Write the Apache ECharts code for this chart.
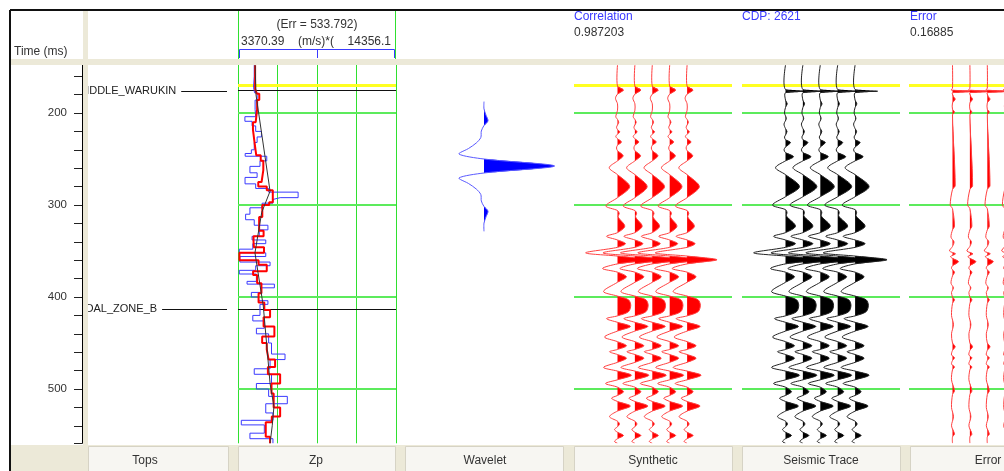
<!DOCTYPE html>
<html>
<head>
<meta charset="utf-8">
<script src="https://cdn.jsdelivr.net/npm/echarts@6/dist/echarts.min.js"></script>
<style>
  html, body { margin: 0; padding: 0; background: #fff; }
  #chart { width: 1004px; height: 471px; }
</style>
</head>
<body>
<div id="chart"></div>
<script>
// ---- time axis (ms) ----
const timeMin = 100, timeMax = 559;
const timeLabels = [200, 300, 400, 500];
const windowStart = 169.6;           // start of the correlation window

// ---- well tops ----
const topNames = ['MIDDLE_WARUKIN', 'COAL_ZONE_B'];
const topTimes = [176, 413.5];

// ---- Zp panel, (m/s)*(g/cc) ----
const zpMin = 3370.39, zpMax = 14356.1, zpErr = 533.792;
// blocky impedance log (block boundaries in ms, one value per block)
const zpLogTime = [148,160,172,178,186,196,204,209,214,220,226,232,240,244,247,252,258,265,270,277,282,286,292,294,298,303,310,316,322,327,334,338,342,348,352,356,362,366,371,375,383,386,390,395,400,404,408,420,426,434,440,450,462,468,478,484,494,500,508,516,526,534,539,548,554,559];
const zpLog     = [4500,4450,4520,4700,4560,4600,3850,4350,4600,5000,4700,4500,4300,3870,5370,4900,4200,4700,3860,4600,5500,7550,6300,5800,5050,4200,3900,4500,5450,4850,4350,5300,4400,3460,5300,3500,5600,4600,3460,4650,4000,5900,5000,4300,4800,5450,4900,4400,5200,4650,5500,5700,6640,5600,4500,5700,4650,5500,6800,5300,5800,3600,5200,4200,5800];
// inverted impedance
const zpInvTime = [148,174,179,186,196,210,218,232,246,252,262,275,280,284,297,300,313,328,334,340,346,352,360,365,372,376,385,396,406,414,422,432,443,450,457,468,476,484,494,505,520,530,536,552,559];
const zpInv     = [4560,4680,4850,4700,4600,4410,4520,4640,4950,5130,5010,4780,5370,5790,5540,5060,4840,5150,4450,4480,5180,3470,4800,5370,4420,4700,5000,4800,5200,5600,5150,5900,5050,5370,5500,5950,5450,6300,5700,5850,6300,5720,5300,5600];
// low-frequency model
const zpModelTime = [148,180,285,308,352,410,458,494,519,540,559];
const zpModel     = [4560,4620,5600,5020,4550,5130,5400,5600,5870,5750,5600];

// ---- wavelet (lag in ms, normalised amplitude) ----
const waveletLag = [-70,-62,-55,-49,-44,-38,-31,-25,-19,-13,-7.6,0,7.6,13,19,25,31,38,44,49,55,62,71];
const waveletAmp = [0,0,0.03,0.057,0,-0.038,-0.045,-0.11,-0.22,-0.354,0,1,0,-0.354,-0.22,-0.11,-0.045,-0.038,0,0.057,0.03,0,0];

// ---- synthetic trace ----
const synthTime = [148,171,175,179.5,184,190,197,204,207,210,213,215.5,218,220.5,223,225.5,228,231.5,235,238,241,246.5,252,259.5,267,280,292,301,306,309,313,323,330,334,338,342,346,352,355.5,359.5,364,369,373,378,384,394,399,403,409,416,420.5,423.5,427.5,432,437,443.5,448.5,453,457,459.5,462.5,466.5,471,476.5,480.5,485,490,494,498,503,507,510,513.5,518.5,524,530,535,538,541,544,547,550.5,554,557,559];
const synthAmp  = [0,0,0.2,0,-0.067,0,0,-0.057,0,0.043,0,-0.033,0,0.077,0,-0.057,0,0.133,0,-0.033,0,0.19,0,-0.277,0,0.41,0,-0.39,0,0.057,0.023,0.243,0,-0.367,0,0.267,0,-1.067,0,1,0,-0.5,0,0.3,0,-0.467,0,0.367,0.443,0.367,0,-0.367,0,0.433,0,-0.433,0,0.3,0,-0.267,0,0.3,0,-0.467,0,0.467,0,-0.4,0,0.2,0,-0.2,0,0.433,0,-0.267,0,0.067,0,-0.1,0,0.2,0,-0.1,0];

// ---- seismic trace at the well ----
const seisTime = [148,174.5,176.3,178,186,190,194,200,206,212,217,220,224,226,229,232,237,240,243,247.5,252,259.5,267,280,291,300,305,308,312,323,330,334,338,342,346,352,355.5,359.5,364,369,373,378,384,394,399,403,409,416,420.5,423.5,427.5,432,437,443.5,448.5,453,457,459.5,462.5,466.5,471,476.5,480.5,485,490,494,498,503,507,510,513.5,518.5,524,530,535,538,541,544,547,550.5,554,557,559];
const seisAmp  = [0,0,0.75,0,0,0.057,0,-0.033,0.027,-0.05,0,0.05,0,-0.033,0,0.167,0,-0.05,0,0.267,0,-0.333,0,0.467,0,-0.433,0,0.05,0.033,0.333,0,-0.4,0,0.333,0,-1.067,0,1.067,0,-0.5,0,0.3,0,-0.467,0,0.367,0.443,0.367,0,-0.367,0,0.433,0,-0.433,0,0.3,0,-0.267,0,0.3,0,-0.467,0,0.467,0,-0.4,0,0.2,0,-0.2,0,0.433,0,-0.267,0,0.067,0,-0.1,0,0.2,0,-0.1,0];

// ---- error trace ----
const errTime = [148,173,175,176.5,178,182,185,189,196,199,202,279,283,300,304,323,327,335,340,345,350,353,356,358,361.6,366,369,373,377,385,390,395,400,403,407,420,430,440,450,454,458,463,466,469,473,476,479,490,502,506,520,530,540,549,552,559];
const errAmp  = [0,0,-0.043,0.85,0,0.033,0.09,0,0,0.067,0,0.09,0,-0.077,0,0.067,0,-0.05,0.05,0,-0.1,0.1,-0.067,0,0.2,0,-0.033,0.067,0,-0.05,0.033,-0.033,0,0.067,0,-0.033,0.033,-0.033,0,0.09,0,-0.033,0.067,0,-0.033,0.067,0,-0.033,0.067,0,-0.033,0.033,-0.033,0.067,0,0];

const correlation = '0.987203', cdpLabel = 'CDP: 2621', errorValue = '0.16885';
const columnNames = ['Tops', 'Zp', 'Wavelet', 'Synthetic', 'Seismic Trace', 'Error'];

// ---------------- drawing ----------------
const FONT = '"Liberation Sans", Arial, sans-serif';
const GREEN = '#2fe02f';
const GREEN_H = '#5ceb5c';     // horizontal time rules
const BEIGE = '#ece9d8';
const TRACE_GAIN = 1.72;       // trace spacings per unit amplitude
const SMOOTH = 0.3;

const plotTop = 21, plotHeight = 422.3;   // 0.92 px per ms
const gridBase = { top: plotTop, height: plotHeight, containLabel: false, outerBoundsMode: 'none' };

function stepPoints(times, values) {
  const pts = [];
  for (let i = 0; i < values.length; i++) {
    pts.push([values[i], times[i]], [values[i], times[i + 1]]);
  }
  return pts;
}

function traceRenderer(times, amps, gain, lineColor, fillColor) {
  return function (params, api) {
    const pos = api.value(0);
    const line = times.map((t, i) => api.coord([pos + amps[i] * gain, t]));
    const zeroAt = (i, j) => {
      const f = amps[i] / (amps[i] - amps[j]);
      return api.coord([pos, times[i] + f * (times[j] - times[i])]);
    };
    const children = [];
    let lobe = null;
    for (let i = 0; i < amps.length; i++) {
      if (amps[i] > 0) {
        if (!lobe) lobe = i > 0 ? [zeroAt(i - 1, i)] : [api.coord([pos, times[i]])];
        lobe.push(line[i]);
      } else if (lobe) {
        lobe.push(zeroAt(i - 1, i));
        children.push({ type: 'polyline', shape: { points: lobe, smooth: SMOOTH },
          style: { fill: fillColor, stroke: 'none' } });
        lobe = null;
      }
    }
    children.push({ type: 'polyline', shape: { points: line, smooth: SMOOTH },
      style: { stroke: lineColor, lineWidth: 1, fill: 'none' } });
    return { type: 'group', children };
  };
}

function traceSeries(axis, count, times, amps, gain, lineColor, fillColor) {
  const data = [];
  for (let i = 0; i < count; i++) data.push([i, times[0]]);
  return { type: 'custom', xAxisIndex: axis, yAxisIndex: axis - 1, clip: true, silent: true, z: 5,
    data, renderItem: traceRenderer(times, amps, gain, lineColor, fillColor) };
}

// horizontal rule at each given time, drawn as a filled band `width` px tall
function hLineSeries(xAxis, yAxis, xFrom, xTo, times, color, width, z, evenRow) {
  return { type: 'custom', xAxisIndex: xAxis, yAxisIndex: yAxis, clip: true, silent: true, z,
    data: times.map(t => [xFrom, t]),
    renderItem(params, api) {
      const t = api.value(1);
      const a = api.coord([xFrom, t]), b = api.coord([xTo, t]);
      let y = Math.round(a[1] - width / 2);
      if (evenRow) y = 2 * Math.floor(a[1] / 2);
      return { type: 'rect', shape: { x: a[0], y, width: b[0] - a[0], height: width },
        style: { fill: color, stroke: 'none', opacity: 1 } };
    } };
}

const measure = document.createElement('canvas').getContext('2d');
measure.font = '11px ' + FONT;

const hiddenTimeAxis = grid => ({
  gridIndex: grid, type: 'value', inverse: true, min: timeMin, max: timeMax,
  axisLine: { show: false }, axisTick: { show: false }, axisLabel: { show: false }, splitLine: { show: false }
});
const hiddenX = (grid, min, max) => ({ gridIndex: grid, type: 'value', min, max,
  axisLine: { show: false }, axisTick: { show: false }, axisLabel: { show: false }, splitLine: { show: false } });

const traceMin = -2.5, traceMax = -2.5 + 158 / 17.4;

const option = {
  animation: false,
  backgroundColor: '#fff',
  grid: [
    Object.assign({ left: 82, width: 6 }, gridBase),      // 0 time axis
    Object.assign({ left: 88, width: 145 }, gridBase),    // 1 tops
    Object.assign({ left: 238, width: 158 }, gridBase),   // 2 Zp
    { left: 405, width: 158, top: 97, height: 138, containLabel: false, outerBoundsMode: 'none' }, // 3 wavelet
    Object.assign({ left: 574, width: 158 }, gridBase),   // 4 synthetic
    Object.assign({ left: 742, width: 158 }, gridBase),   // 5 seismic
    Object.assign({ left: 909, width: 158 }, gridBase)    // 6 error
  ],
  xAxis: [
    hiddenX(0, 0, 1),
    hiddenX(1, 0, 1),
    hiddenX(2, zpMin, zpMax),
    { gridIndex: 2, type: 'value', min: 0, max: 4, interval: 1, position: 'top',
      axisLine: { show: false }, axisTick: { show: false }, axisLabel: { show: false },
      splitLine: { show: true, lineStyle: { color: GREEN, width: 1 } } },
    hiddenX(3, -1.12, 1.12),
    hiddenX(4, traceMin, traceMax),
    hiddenX(5, traceMin, traceMax),
    hiddenX(6, traceMin, traceMax)
  ],
  yAxis: [
    { gridIndex: 0, type: 'value', inverse: true, min: timeMin, max: timeMax, interval: 20, position: 'left',
      axisLine: { show: true, lineStyle: { color: '#000', width: 1 } },
      axisTick: { show: true, length: 8, lineStyle: { color: '#222', width: 1 } },
      axisLabel: { show: true, margin: 15, color: '#333', fontSize: 11.5, fontFamily: FONT,
        formatter: v => (timeLabels.indexOf(v) >= 0 ? String(v) : '') },
      splitLine: { show: false } },
    hiddenTimeAxis(1),
    hiddenTimeAxis(2),
    { gridIndex: 3, type: 'value', inverse: true, min: -75, max: 75,
      axisLine: { show: false }, axisTick: { show: false }, axisLabel: { show: false }, splitLine: { show: false } },
    hiddenTimeAxis(4),
    hiddenTimeAxis(5),
    hiddenTimeAxis(6)
  ],
  series: [
    // time grid lines
    hLineSeries(2, 2, zpMin, zpMax, timeLabels, GREEN_H, 2, 1, true),
    hLineSeries(5, 4, traceMin, traceMax, timeLabels, GREEN_H, 2, 1, true),
    hLineSeries(6, 5, traceMin, traceMax, timeLabels, GREEN_H, 2, 1, true),
    hLineSeries(7, 6, traceMin, traceMax, timeLabels, GREEN_H, 2, 1, true),
    // correlation window start
    hLineSeries(2, 2, zpMin, zpMax, [windowStart], '#ffff22', 3, 3),
    hLineSeries(5, 4, traceMin, traceMax, [windowStart], '#ffff22', 3, 3),
    hLineSeries(6, 5, traceMin, traceMax, [windowStart], '#ffff22', 3, 3),
    hLineSeries(7, 6, traceMin, traceMax, [windowStart], '#ffff22', 3, 3),
    // tops across the Zp panel
    hLineSeries(2, 2, zpMin, zpMax, topTimes, '#111', 1, 4),
    // Zp curves
    { type: 'line', xAxisIndex: 2, yAxisIndex: 2, data: stepPoints(zpLogTime, zpLog), showSymbol: false,
      clip: true, silent: true, z: 5, lineStyle: { color: '#3a3aff', width: 1 } },
    { type: 'line', xAxisIndex: 2, yAxisIndex: 2, data: stepPoints(zpInvTime, zpInv), showSymbol: false,
      clip: true, silent: true, z: 6, lineStyle: { color: '#ff0000', width: 2 } },
    { type: 'line', xAxisIndex: 2, yAxisIndex: 2, data: zpModel.map((v, i) => [v, zpModelTime[i]]),
      showSymbol: false, clip: true, silent: true, z: 7, lineStyle: { color: '#333', width: 1 } },
    // tops labels
    { type: 'custom', xAxisIndex: 1, yAxisIndex: 1, clip: true, silent: true, z: 5,
      data: topTimes.map(t => [0, t]),
      renderItem(params, api) {
        const name = topNames[params.dataIndex];
        const p0 = api.coord([0, api.value(1)]);
        const p1 = api.coord([1, api.value(1)]);
        const x0 = p0[0] - 11;
        const w = measure.measureText(name).width;
        const y = Math.round(p0[1]) + 0.5;
        return { type: 'group', children: [
          { type: 'text', x: x0, y: p0[1], style: { text: name, fill: '#222', font: '11px ' + FONT,
            textAlign: 'left', textVerticalAlign: 'middle' } },
          { type: 'line', shape: { x1: x0 + w + 5, y1: y, x2: p1[0] - 6, y2: y },
            style: { stroke: '#111', lineWidth: 1 } }
        ] };
      } },
    // wavelet
    { type: 'custom', xAxisIndex: 4, yAxisIndex: 3, clip: false, silent: true, z: 5,
      data: [[0, 0]], renderItem: traceRenderer(waveletLag, waveletAmp, 1, '#5a5aff', '#0000ff') },
    // trace panels
    traceSeries(5, 5, synthTime, synthAmp, TRACE_GAIN, '#ff4040', '#ff0000'),
    traceSeries(6, 5, seisTime, seisAmp, TRACE_GAIN, '#222', '#000'),
    traceSeries(7, 4, errTime, errAmp, TRACE_GAIN, '#ff4040', '#ff0000')
  ],
  graphic: { elements: [] }
};

// ---- frame, header and footer ----
const G = option.graphic.elements;
const Z = 100;
const txt = (x, y, text, color, align) => ({ type: 'text', x, y, z: Z, silent: true,
  style: { text, fill: color, font: '12px ' + FONT, textAlign: align || 'left', textVerticalAlign: 'middle' } });

G.push({ type: 'rect', z: Z, silent: true, shape: { x: 0, y: 0, width: 1004, height: 59 }, style: { fill: '#fff' } });
G.push({ type: 'rect', z: Z, silent: true, shape: { x: 10, y: 59, width: 994, height: 6 }, style: { fill: BEIGE } });
G.push({ type: 'rect', z: Z, silent: true, shape: { x: 0, y: 0, width: 10, height: 471 }, style: { fill: '#fff' } });
G.push({ type: 'rect', z: Z, silent: true, shape: { x: 83, y: 11, width: 5, height: 434 }, style: { fill: BEIGE } });
G.push({ type: 'line', z: Z, silent: true, shape: { x1: 10, y1: 10, x2: 1004, y2: 10 }, style: { stroke: '#111', lineWidth: 2 } });
G.push({ type: 'line', z: Z, silent: true, shape: { x1: 10, y1: 10, x2: 10, y2: 471 }, style: { stroke: '#111', lineWidth: 2 } });
// Zp header
[238.5, 395.5].forEach(x => G.push({ type: 'line', z: Z, silent: true,
  shape: { x1: x, y1: 11, x2: x, y2: 59 }, style: { stroke: GREEN, lineWidth: 1 } }));
G.push({ type: 'polyline', z: Z, silent: true,
  shape: { points: [[239.5, 58], [239.5, 49.5], [394.5, 49.5], [394.5, 58]] }, style: { stroke: '#3a3aff', lineWidth: 1, fill: 'none' } });
G.push({ type: 'line', z: Z, silent: true, shape: { x1: 317.5, y1: 49.5, x2: 317.5, y2: 58 }, style: { stroke: '#3a3aff', lineWidth: 1 } });
G.push(txt(14, 52, 'Time (ms)', '#333'));
G.push(txt(317, 25, '(Err = ' + zpErr + ')', '#333', 'center'));
G.push(txt(241, 42, String(zpMin), '#333'));
G.push(txt(316, 42, '(m/s)*(', '#333', 'center'));
G.push(txt(391, 42, String(zpMax), '#333', 'right'));
G.push(txt(574, 17, 'Correlation', '#3a3aff'));
G.push(txt(574, 33, correlation, '#333'));
G.push(txt(742, 17, cdpLabel, '#3a3aff'));
G.push(txt(910, 17, 'Error', '#3a3aff'));
G.push(txt(910, 33, errorValue, '#333'));
// footer buttons
G.push({ type: 'rect', z: Z, silent: true, shape: { x: 11, y: 445, width: 993, height: 26 }, style: { fill: BEIGE } });
const buttons = [[88, 228], [238, 395], [405, 563], [574, 732], [742, 900], [910, 1068]];
const labelX = [145, 316, 485, 653, 821, 988];
buttons.forEach((b, i) => {
  G.push({ type: 'rect', z: Z, silent: true, shape: { x: b[0] + 0.5, y: 446.5, width: b[1] - b[0], height: 25 },
    style: { fill: '#f7f6f2', stroke: '#d6d3c5', lineWidth: 1 } });
  G.push(txt(labelX[i], 461, columnNames[i], '#333', 'center'));
});

const chart = echarts.init(document.getElementById('chart'), null, { renderer: 'canvas' });
chart.setOption(option);
</script>
</body>
</html>
